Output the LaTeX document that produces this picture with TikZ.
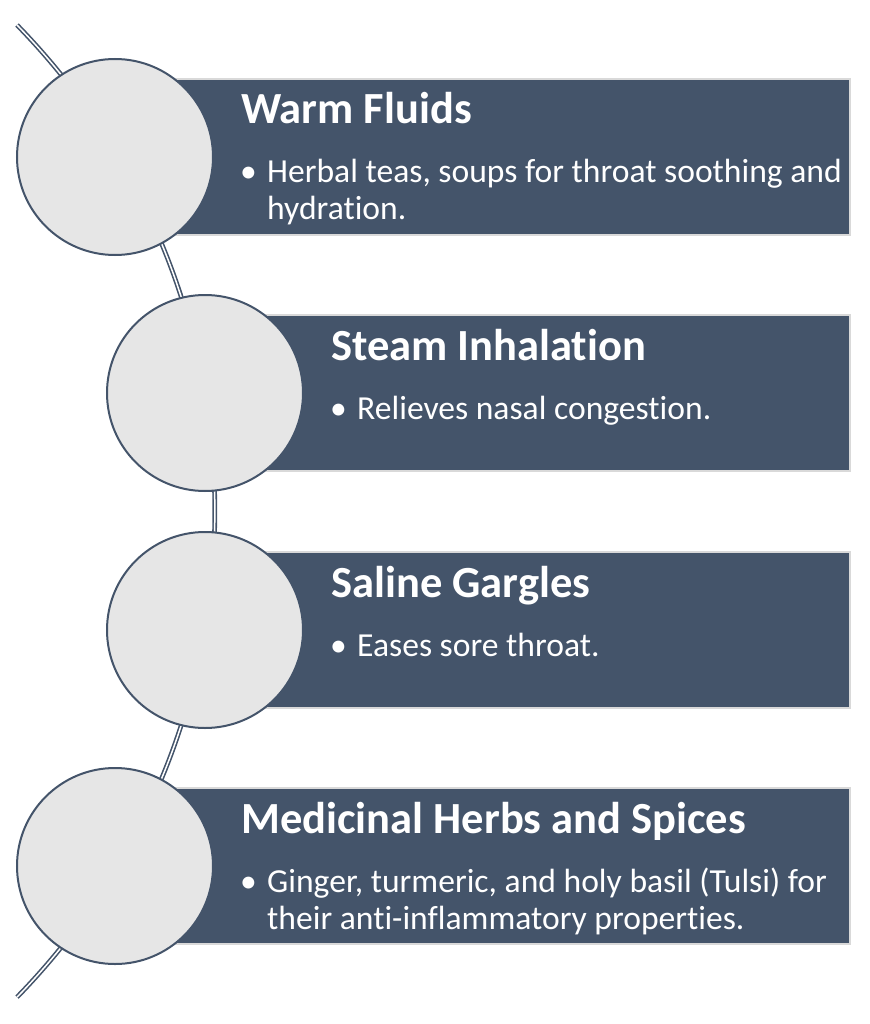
\documentclass[tikz,border=0pt]{standalone}
\usepackage{fontspec}
\setmainfont{Carlito}[Ligatures=NoCommon]
\usepackage{xcolor}
\definecolor{slate}{HTML}{44546A}
\definecolor{discgray}{HTML}{E6E6E6}
\definecolor{rimgray}{HTML}{D9D9D9}

\begin{document}
\begin{tikzpicture}[x=1pt, y=-1pt,
        band/.style={fill=slate, draw=rimgray, line width=1.5pt},
        disc/.style={circle, fill=discgray, draw=slate, line width=2pt, minimum size=196pt, inner sep=0pt},
        title/.style={anchor=base west, text=white, inner sep=0pt, font=\fontsize{44.5}{54}\selectfont\bfseries},
        body/.style={anchor=base west, text=white, inner sep=0pt, align=left, font=\fontsize{33.6}{37}\selectfont}]
        \useasboundingbox (0, 0) rectangle (869, 1024);
        % the arc behind the discs
        \coordinate (hub) at (-481, 511.5);
        \draw[slate, line width=1.6pt, double=white, double distance=1.5pt]
            (17, 25) arc[start angle=-44.3, end angle=44.3, radius=696];
        \foreach \cy/\cx/\n in {157/115/1, 393/205/2, 630/205/3, 866/115/4} {
            \draw[band] (\cx, \cy-78) rectangle (850, \cy+78);
            \node[disc] (d\n) at (\cx, \cy) {};
            \coordinate (t\n) at (\cx+126, \cy-33);
            \coordinate (b\n) at (\cx+152, \cy+26);
        }
        \node[title] (w1) at (t1) {Warm Fluids};
        \node[body] (x1) at ([yshift=-37pt]b1) {Herbal teas, soups for throat soothing and\\hydration.};
        \node[title] (w2) at (t2) {Steam Inhalation};
        \node[body] (x2) at (b2) {Relieves nasal congestion.};
        \node[title] (w3) at (t3) {Saline Gargles};
        \node[body] (x3) at (b3) {Eases sore throat.};
        \node[title] (w4) at (t4) {Medicinal Herbs and Spices};
        \node[body] (x4) at ([yshift=-37pt]b4) {Ginger, turmeric, and holy basil (Tulsi) for\\their anti-inflammatory properties.};
        \foreach \n in {1,...,4} {
            \node[body, anchor=base east] (p\n) at ([xshift=-10pt]b\n) {\textbullet};
        }
    \end{tikzpicture}
\end{document}
